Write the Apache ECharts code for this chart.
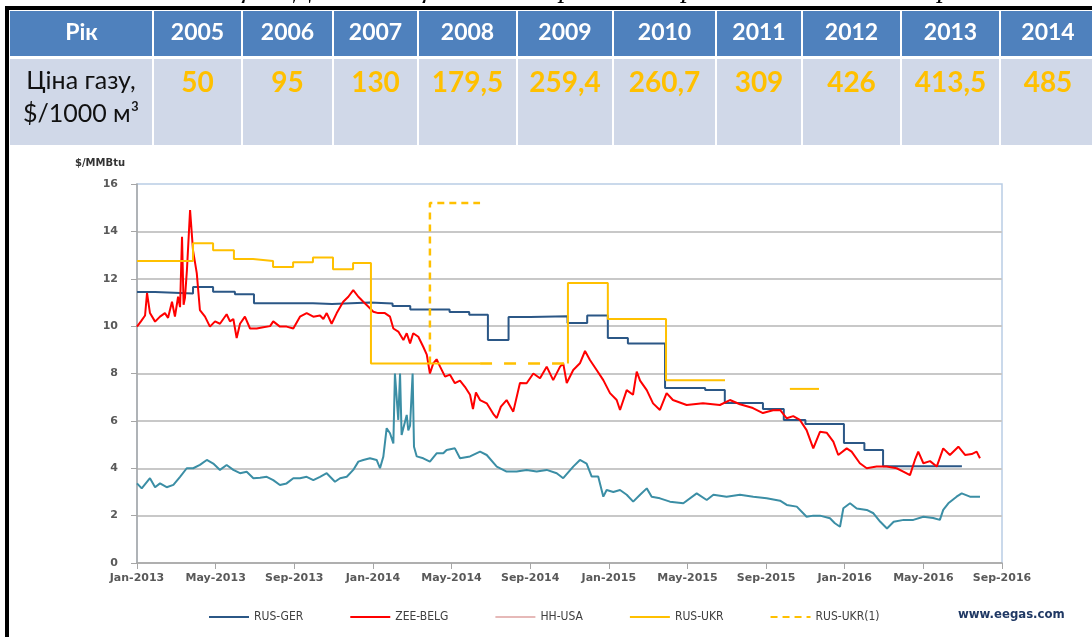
<!DOCTYPE html>
<html>
<head>
<meta charset="utf-8">
<script src="https://cdn.jsdelivr.net/npm/echarts@6/dist/echarts.min.js"></script>
<style>
html, body { margin: 0; padding: 0; background: #fff; }
#main { width: 1092px; height: 637px; }
</style>
</head>
<body>
<div id="main"></div>
<script>
// table data
var years = ['2005', '2006', '2007', '2008', '2009', '2010', '2011', '2012', '2013', '2014'];
var prices = [50, 95, 130, 179.5, 259.4, 260.7, 309, 426, 413.5, 485];

// x = months from Jan-2013
var xTickLabels = ['Jan-2013', 'May-2013', 'Sep-2013', 'Jan-2014', 'May-2014', 'Sep-2014',
    'Jan-2015', 'May-2015', 'Sep-2015', 'Jan-2016', 'May-2016', 'Sep-2016'];

// step series: [start month, level]
var rusGer = [[0, 11.44], [0.92, 11.38], [2.85, 11.65], [3.87, 11.45], [4.98, 11.35], [5.95, 10.97],
    [8.95, 10.93], [9.92, 11.0], [11.85, 10.95], [13.0, 10.85], [13.9, 10.7], [15.9, 10.6],
    [16.9, 10.48], [17.85, 9.41], [18.9, 10.38], [20.0, 10.42], [21.9, 10.13], [22.9, 10.45],
    [23.95, 9.5], [24.97, 9.27], [26.86, 7.39], [28.9, 7.3], [29.9, 6.75], [31.84, 6.5],
    [32.9, 6.04], [34.0, 5.87], [35.96, 5.07], [37.0, 4.77], [37.95, 4.08], [41.96, 4.08]];

var rusUkrA = [[0, 12.75], [2.85, 13.5], [3.87, 13.2], [4.93, 12.83], [5.9, 12.75], [6.92, 12.5],
    [7.94, 12.7], [8.95, 12.9], [9.97, 12.4], [10.99, 12.66], [11.9, 8.42], [17.45, 8.42]];
var rusUkrB = [[21.92, 8.42], [21.92, 11.82], [23.95, 10.3], [26.91, 7.72], [29.91, 7.72]];
var rusUkrC = [[33.21, 7.35], [34.69, 7.35]];

var rusUkr1A = [[14.9, 8.42], [14.9, 15.2], [17.45, 15.2]];
var rusUkr1B = [[17.45, 8.42], [21.92, 8.42]];

var zeeBelg = [[0, 9.98], [0.2, 10.2], [0.41, 10.45], [0.51, 11.4], [0.66, 10.55], [0.92, 10.19],
    [1.17, 10.4], [1.42, 10.55], [1.58, 10.35], [1.78, 11.03], [1.93, 10.4], [2.09, 11.24],
    [2.19, 10.8], [2.29, 13.77], [2.37, 10.9], [2.44, 11.2], [2.54, 12.37], [2.7, 14.9],
    [2.85, 13.2], [3.04, 12.24], [3.2, 10.68], [3.46, 10.4], [3.71, 9.98], [3.97, 10.2],
    [4.22, 10.1], [4.56, 10.5], [4.73, 10.2], [4.9, 10.3], [5.07, 9.5], [5.24, 10.1],
    [5.49, 10.4], [5.75, 9.9], [6.09, 9.9], [6.42, 9.95], [6.77, 10.0], [6.93, 10.2],
    [7.27, 9.98], [7.61, 9.98], [7.95, 9.9], [8.29, 10.4], [8.63, 10.55], [8.97, 10.4],
    [9.31, 10.45], [9.48, 10.3], [9.65, 10.55], [9.9, 10.1], [10.16, 10.55], [10.49, 11.03],
    [10.75, 11.24], [11.0, 11.52], [11.26, 11.24], [11.51, 11.03], [11.76, 10.83], [12.02, 10.61],
    [12.27, 10.55], [12.61, 10.55], [12.87, 10.4], [13.04, 9.9], [13.29, 9.77], [13.55, 9.41],
    [13.72, 9.7], [13.89, 9.27], [14.05, 9.7], [14.31, 9.55], [14.56, 9.13], [14.74, 8.8],
    [14.9, 8.0], [15.07, 8.43], [15.24, 8.6], [15.41, 8.3], [15.67, 7.87], [15.92, 7.95],
    [16.17, 7.59], [16.43, 7.7], [16.68, 7.44], [16.94, 7.1], [17.09, 6.5], [17.24, 7.2],
    [17.45, 6.88], [17.79, 6.74], [18.12, 6.3], [18.3, 6.12], [18.51, 6.6], [18.8, 6.88],
    [19.14, 6.39], [19.48, 7.6], [19.82, 7.59], [20.16, 8.0], [20.5, 7.8], [20.84, 8.29],
    [21.17, 7.72], [21.52, 8.29], [21.68, 8.43], [21.86, 7.6], [22.19, 8.15], [22.53, 8.43],
    [22.79, 8.95], [23.04, 8.57], [23.38, 8.15], [23.72, 7.72], [24.06, 7.17], [24.4, 6.88],
    [24.57, 6.46], [24.91, 7.3], [25.23, 7.1], [25.42, 8.08], [25.59, 7.7], [25.93, 7.3],
    [26.25, 6.74], [26.6, 6.46], [26.94, 7.17], [27.26, 6.88], [27.96, 6.67], [28.79, 6.74],
    [29.65, 6.67], [30.16, 6.88], [30.67, 6.7], [31.33, 6.54], [31.84, 6.33], [32.35, 6.45],
    [32.71, 6.46], [33.05, 6.11], [33.38, 6.2], [33.72, 6.04], [34.06, 5.61], [34.4, 4.84],
    [34.74, 5.54], [35.08, 5.5], [35.42, 5.12], [35.67, 4.56], [36.1, 4.84], [36.35, 4.7],
    [36.77, 4.21], [37.12, 4.0], [37.62, 4.07], [38.13, 4.07], [38.64, 4.0], [38.98, 3.86],
    [39.32, 3.71], [39.57, 4.35], [39.74, 4.7], [40.0, 4.21], [40.34, 4.3], [40.68, 4.07],
    [41.01, 4.84], [41.35, 4.56], [41.78, 4.91], [42.12, 4.56], [42.46, 4.6], [42.71, 4.7],
    [42.88, 4.42]];

var hhUsa = [[0, 3.36], [0.24, 3.15], [0.66, 3.58], [0.92, 3.2], [1.17, 3.36], [1.51, 3.2],
    [1.85, 3.3], [2.19, 3.64], [2.53, 4.0], [2.86, 4.0], [3.2, 4.14], [3.55, 4.35],
    [3.88, 4.2], [4.22, 3.93], [4.56, 4.14], [4.9, 3.93], [5.24, 3.79], [5.58, 3.85],
    [5.92, 3.58], [6.26, 3.6], [6.6, 3.64], [6.93, 3.5], [7.27, 3.29], [7.61, 3.36],
    [7.95, 3.58], [8.29, 3.58], [8.63, 3.64], [8.97, 3.5], [9.31, 3.64], [9.65, 3.79],
    [10.07, 3.43], [10.33, 3.58], [10.67, 3.64], [11.0, 3.93], [11.26, 4.28], [11.51, 4.35],
    [11.85, 4.42], [12.19, 4.35], [12.36, 4.0], [12.53, 4.49], [12.7, 5.69], [12.87, 5.48],
    [13.04, 5.05], [13.12, 8.0], [13.29, 6.04], [13.38, 8.0], [13.46, 5.4], [13.72, 6.25],
    [13.8, 5.6], [13.89, 5.8], [14.02, 8.0], [14.09, 4.91], [14.23, 4.5], [14.56, 4.42],
    [14.9, 4.28], [15.24, 4.63], [15.58, 4.63], [15.75, 4.77], [16.17, 4.84], [16.43, 4.42],
    [16.94, 4.5], [17.45, 4.7], [17.79, 4.56], [18.3, 4.07], [18.8, 3.86], [19.31, 3.86],
    [19.82, 3.93], [20.33, 3.86], [20.84, 3.93], [21.35, 3.79], [21.68, 3.58], [22.19, 4.07],
    [22.53, 4.35], [22.87, 4.2], [23.13, 3.65], [23.46, 3.65], [23.72, 2.8], [23.89, 3.08],
    [24.23, 3.0], [24.57, 3.08], [24.91, 2.88], [25.24, 2.59], [25.59, 2.88], [25.93, 3.15],
    [26.18, 2.8], [26.6, 2.73], [27.11, 2.59], [27.79, 2.52], [28.47, 2.94], [28.98, 2.66],
    [29.32, 2.88], [29.99, 2.8], [30.67, 2.88], [31.35, 2.8], [32.03, 2.73], [32.71, 2.63],
    [33.05, 2.45], [33.56, 2.38], [34.06, 1.95], [34.4, 2.0], [34.74, 2.0], [35.25, 1.89],
    [35.5, 1.68], [35.76, 1.53], [35.93, 2.31], [36.27, 2.52], [36.61, 2.3], [37.12, 2.24],
    [37.46, 2.1], [37.81, 1.74], [38.15, 1.46], [38.49, 1.74], [39.0, 1.82], [39.49, 1.82],
    [40.0, 1.95], [40.5, 1.9], [40.84, 1.82], [41.01, 2.24], [41.27, 2.52], [41.69, 2.8],
    [41.95, 2.94], [42.37, 2.8], [42.63, 2.8], [42.88, 2.8]];

var myChart = echarts.init(document.getElementById('main'));

// table layout
var colEdges = [10, 153, 242, 333, 418, 517, 613, 716, 802, 901, 1000, 1096];
var g = [];
g.push({type: 'text', x: 165, y: 4, style: {
    text: 'Таблиця 1. Динаміка ціни на імпортований російський газ для України',
    font: 'italic 28px "Liberation Serif"', fill: '#000', verticalAlign: 'bottom'}});
g.push({type: 'rect', shape: {x: 5, y: 6, width: 1092, height: 4}, style: {fill: '#000'}});
g.push({type: 'rect', shape: {x: 5, y: 6, width: 4, height: 640}, style: {fill: '#000'}});
for (var i = 0; i < colEdges.length - 1; i++) {
    var x0 = colEdges[i] + (i > 0 ? 1 : 0);
    var w = colEdges[i + 1] - x0 - 1;
    var cx = (colEdges[i] + colEdges[i + 1]) / 2;
    g.push({type: 'rect', shape: {x: x0, y: 11, width: w, height: 45}, style: {fill: '#4f81bd'}});
    g.push({type: 'rect', shape: {x: x0, y: 59, width: w, height: 86}, style: {fill: '#d0d8e8'}});
    g.push({type: 'text', x: cx, y: 33, style: {
        text: i === 0 ? 'Рік' : years[i - 1], font: 'bold 23px Lato', fill: '#fff',
        align: 'center', verticalAlign: 'middle'}});
    if (i > 0) {
        g.push({type: 'text', x: cx, y: 83, style: {
            text: String(prices[i - 1]).replace('.', ','), font: 'bold 28px Lato', fill: '#ffc000',
            align: 'center', verticalAlign: 'middle'}});
    }
}
g.push({type: 'text', x: 81, y: 81, style: {text: 'Ціна газу,', font: '25px Lato', fill: '#111',
    align: 'center', verticalAlign: 'middle'}});
g.push({type: 'text', x: 81, y: 114, style: {text: '$/1000 м³', font: '25px Lato', fill: '#111',
    align: 'center', verticalAlign: 'middle'}});
g.push({type: 'text', x: 75, y: 163, style: {text: '$/MMBtu', font: 'bold 10px "DejaVu Sans"', fill: '#333',
    verticalAlign: 'middle'}});
g.push({type: 'text', x: 958, y: 615, style: {text: 'www.eegas.com', font: 'bold 13px "DejaVu Sans Condensed"',
    fill: '#1f3864', verticalAlign: 'middle'}});

var cGer = '#2b5786', cBelg = '#ff0000', cUsa = '#3b8ea5', cUkr = '#ffc000';

function line(name, data, color, extra) {
    var s = {name: name, type: 'line', data: data, symbol: 'none', silent: true,
        lineStyle: {color: color, width: 2}, itemStyle: {color: color}};
    for (var k in extra) s[k] = extra[k];
    return s;
}

var option = {
    animation: false,
    backgroundColor: '#fff',
    grid: {left: 137, right: 90, top: 184, bottom: 74, show: true,
        borderColor: '#b9cde5', borderWidth: 1.5, backgroundColor: 'transparent'},
    xAxis: {
        type: 'value', min: 0, max: 44, interval: 4,
        axisLine: {lineStyle: {color: '#a6a6a6', width: 1.5}},
        axisTick: {show: true, length: 6, lineStyle: {color: '#a6a6a6'}},
        splitLine: {show: false},
        axisLabel: {margin: 10, color: '#595959', fontWeight: 'bold', fontSize: 11,
            fontFamily: 'DejaVu Sans', showMaxLabel: true, showMinLabel: true,
            formatter: function (v) { return xTickLabels[Math.round(v / 4)]; }}
    },
    yAxis: {
        type: 'value', min: 0, max: 16, interval: 2,
        axisLine: {show: true, lineStyle: {color: '#a6a6a6', width: 1.5}},
        axisTick: {show: true, length: 6, lineStyle: {color: '#a6a6a6'}},
        splitLine: {show: true, showMaxLine: false, lineStyle: {color: '#c8c8c8', width: 2}},
        axisLabel: {margin: 19, color: '#595959', fontWeight: 'bold', fontSize: 11, fontFamily: 'DejaVu Sans'}
    },
    legend: {
        left: 203, top: 606, itemWidth: 40, itemHeight: 12, itemGap: 46,
        itemStyle: {opacity: 0},
        textStyle: {color: '#404040', fontSize: 12, fontFamily: 'DejaVu Sans Condensed'},
        data: [
            {name: 'RUS-GER'},
            {name: 'ZEE-BELG'},
            {name: 'HH-USA', itemStyle: {color: '#e6b9b8', opacity: 0}, lineStyle: {color: '#e6b9b8'}},
            {name: 'RUS-UKR'},
            {name: 'RUS-UKR(1)'}
        ]
    },
    graphic: g,
    series: [
        line('HH-USA', hhUsa, cUsa, {}),
        line('RUS-GER', rusGer, cGer, {step: 'end'}),
        line('ZEE-BELG', zeeBelg, cBelg, {}),
        line('RUS-UKR', rusUkrA, cUkr, {step: 'end'}),
        line('RUS-UKR', rusUkrB, cUkr, {step: 'end'}),
        line('RUS-UKR', rusUkrC, cUkr, {step: 'end'}),
        line('RUS-UKR(1)', rusUkr1A, cUkr, {step: 'end', lineStyle: {color: cUkr, width: 2.5, type: [7, 5]}}),
        line('RUS-UKR(1)', rusUkr1B, cUkr, {step: 'end', lineStyle: {color: cUkr, width: 2.5, type: [12, 12]}})
    ]
};

myChart.setOption(option);
window.onresize = myChart.resize;
</script>
</body>
</html>
